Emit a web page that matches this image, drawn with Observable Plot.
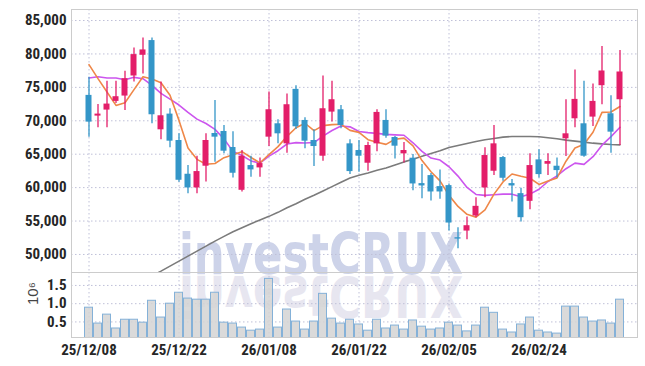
<!DOCTYPE html>
<html>
<head>
<meta charset="utf-8">
<script src="https://cdn.jsdelivr.net/npm/d3@7"></script>
<script src="https://cdn.jsdelivr.net/npm/@observablehq/plot@0.6"></script>
<style>
  html, body { margin: 0; padding: 0; background: #fff; }
  #wrap { position: relative; width: 645px; height: 366px; overflow: hidden; }
  #wm { position: absolute; left: 0; top: 0; z-index: 0; }
  #charts { position: absolute; left: 0; top: 0; z-index: 1; }
  #charts svg { display: block; }
</style>
</head>
<body>
<div id="wrap">
  <svg id="wm" width="645" height="366">
    <text x="321" y="274" text-anchor="middle" font-family="DejaVu Sans" font-weight="bold" font-size="57" textLength="284" lengthAdjust="spacingAndGlyphs" fill="#cdd3e9">investCRUX</text>
    <g transform="translate(0,550) scale(1,-1)">
      <text x="321" y="274" text-anchor="middle" font-family="DejaVu Sans" font-weight="bold" font-size="57" textLength="284" lengthAdjust="spacingAndGlyphs" fill="#e7e6f0">investCRUX</text>
    </g>
  </svg>
  <div id="charts"></div>
</div>
<script>
const dates = [
  "25/12/08","25/12/09","25/12/10","25/12/11","25/12/12",
  "25/12/15","25/12/16","25/12/17","25/12/18","25/12/19",
  "25/12/22","25/12/23","25/12/24","25/12/26","25/12/29",
  "25/12/30","26/01/02","26/01/05","26/01/06","26/01/07",
  "26/01/08","26/01/09","26/01/12","26/01/13","26/01/14",
  "26/01/15","26/01/16","26/01/19","26/01/20","26/01/21",
  "26/01/22","26/01/23","26/01/26","26/01/27","26/01/28",
  "26/01/29","26/01/30","26/02/02","26/02/03","26/02/04",
  "26/02/05","26/02/06","26/02/09","26/02/10","26/02/11",
  "26/02/12","26/02/13","26/02/19","26/02/20","26/02/23",
  "26/02/24","26/02/25","26/02/26","26/02/27","26/03/03",
  "26/03/04","26/03/05","26/03/06","26/03/09","26/03/10"
];
const opens = [
  73800,70700,71600,72900,73700,76700,79800,82000,68650,71000,
  67050,62000,59950,63200,68100,68400,66000,59600,63300,62950,
  67550,69550,66550,74700,70050,67050,64700,71300,71650,66550,
  65550,63650,66550,70050,67500,65050,64400,60600,61800,60150,
  60300,52500,53500,55750,59950,62450,64500,60600,59100,57950,
  64150,63500,63200,67300,70300,69550,70550,75250,71050,73150
];
const highs = [
  76500,72450,75900,75900,77400,80900,82400,82400,75800,71800,
  68050,63300,64700,68050,73050,69300,68350,65550,64700,64450,
  74300,70150,74000,75230,70450,68650,76700,75900,72300,67150,
  67050,66800,71650,71650,67650,66750,64950,63450,62100,62650,
  60550,54000,55600,58500,65950,69300,64650,61200,59900,65050,
  65650,65050,64450,73150,77600,75900,75500,81100,73750,80500
];
const lows = [
  67550,68950,68950,72600,71550,75800,77000,69550,67150,65950,
  60800,59100,59100,60850,63800,65050,61450,59350,61550,61550,
  66150,66550,65150,68700,65800,63150,63950,69800,68800,61950,
  62300,62450,65350,67400,64300,63700,59550,58350,58000,58250,
  53500,50850,52200,55500,58500,61800,60950,57850,54850,56700,
  61450,61800,61450,64650,68950,64550,69150,72400,65150,66300
];
const closes = [
  69800,71000,72500,73600,76300,79900,80600,70900,70750,66950,
  61100,59950,62400,67050,67550,65450,62150,64700,62650,63600,
  71650,68050,72400,69100,66950,66150,71800,73150,69300,62400,
  64700,66300,71250,67700,66200,65550,60550,60250,59350,59350,
  54700,52300,54300,57200,64800,66550,61400,60250,55500,63300,
  61950,63900,62550,68050,73200,64700,72900,77450,68300,77300
];
// volume, in millions of shares (axis unit 10^6)
const volumes = [
  0.89,0.455,0.70,0.32,0.56,0.56,0.48,1.08,0.62,1.00,
  1.30,1.14,1.11,1.11,1.30,0.48,0.455,0.345,0.26,0.29,
  1.68,0.345,0.84,0.51,0.29,0.51,1.27,0.59,0.455,0.56,
  0.43,0.26,0.56,0.32,0.40,0.29,0.54,0.37,0.29,0.32,
  0.48,0.40,0.24,0.40,0.89,0.75,0.29,0.21,0.43,0.62,
  0.26,0.21,0.18,0.92,0.92,0.62,0.51,0.54,0.455,1.11
];
const ma5 = [
  78400,76300,74300,72300,72700,74660,76580,76260,75690,73820,
  70060,65930,64230,63490,63610,64480,64920,65380,64500,63710,
  64950,66130,67670,68960,69630,68530,69280,69430,69470,68560,
  68270,67170,66790,66470,67230,67400,66250,64050,62380,61010,
  58840,57190,56000,55570,56660,59030,60850,62040,61700,61400,
  60480,60980,61440,63950,65930,66480,68280,71260,71310,72130
];
const ma10 = [
  76400,76600,76400,76400,76150,76500,76300,75300,74100,73230,
  72360,71255,70245,69590,68715,67270,65425,64805,63995,63660,
  64715,65525,66525,66730,66670,66740,67705,68550,69215,69095,
  68400,68225,68110,67970,67895,67835,66710,65420,64425,64120,
  63120,61720,60025,58975,58835,58935,59020,59020,58635,59030,
  59755,60915,61740,62825,63665,63480,64630,66350,67630,69030
];
const ma60 = [
  null,null,null,null,null,null,null,46800,47500,48250,
  49000,49750,50500,51250,52000,52700,53400,54000,54600,55150,
  55700,56300,57000,57600,58250,58850,59500,60150,60800,61450,
  61850,62200,62600,62950,63400,63850,64250,64700,65100,65500,
  66000,66300,66600,66900,67150,67350,67550,67650,67650,67650,
  67600,67450,67300,67100,66950,66800,66650,66550,66450,66400
];
const priceTicks = [50000,55000,60000,65000,70000,75000,80000,85000];
const volumeTicks = [0.5,1.0,1.5];
const dateTicks = ["25/12/08","25/12/22","26/01/08","26/01/22","26/02/05","26/02/24"];

const candles = dates.map((date, i) => ({
  date, open: opens[i], high: highs[i], low: lows[i], close: closes[i],
  volume: volumes[i], ma5: ma5[i], ma10: ma10[i], ma60: ma60[i]
}));

const UP = "#e31e69", DOWN = "#3496c8";
const col = d => d.close >= d.open ? UP : DOWN;
const gridStyle = {stroke: "#bfc0d8", strokeOpacity: 1, strokeDasharray: "1.5,2.5"};
const font = "'Liberation Sans Narrow', 'Roboto Condensed', 'DejaVu Sans', sans-serif";
const baseStyle = {background: "transparent", fontFamily: font, fontStretch: "condensed", fontWeight: "bold", fontSize: "15px", color: "#262626", overflow: "visible"};

const price = Plot.plot({
  width: 645, height: 272,
  marginLeft: 71, marginRight: 8, marginTop: 9, marginBottom: 0,
  style: baseStyle,
  x: {type: "band", domain: dates, padding: 0, axis: null},
  y: {domain: [47300, 86650], ticks: priceTicks, tickFormat: d3.format(","), tickSize: 0, tickPadding: 5, label: null},
  marks: [
    Plot.gridY(priceTicks, gridStyle),
    Plot.gridX(dateTicks, gridStyle),
    Plot.frame({stroke: "#cccccc"}),
    Plot.line(candles.filter(d => d.ma60 != null), {x: "date", y: "ma60", stroke: "#7b7b7b", strokeWidth: 1.6, clip: true}),
    Plot.line(candles, {x: "date", y: "ma10", stroke: "#cc55ee", strokeWidth: 1.6}),
    Plot.line(candles, {x: "date", y: "ma5", stroke: "#ef8748", strokeWidth: 1.6}),
    Plot.ruleX(candles, {x: "date", y1: "low", y2: "high", stroke: col, strokeWidth: 1.3}),
    Plot.barY(candles, {x: "date", y1: "open", y2: "close", fill: col, insetLeft: 1.5, insetRight: 1.5})
  ]
});

const volume = Plot.plot({
  width: 645, height: 94,
  marginLeft: 71, marginRight: 8, marginTop: 0, marginBottom: 29,
  style: baseStyle,
  x: {type: "band", domain: dates, padding: 0, ticks: dateTicks, tickSize: 0, tickPadding: 7, label: null},
  y: {domain: [0.073, 1.855], ticks: volumeTicks, tickFormat: d3.format(".1f"), tickSize: 0, tickPadding: 5, label: null},
  marks: [
    Plot.gridY(volumeTicks, gridStyle),
    Plot.gridX(dateTicks, gridStyle),
    Plot.barY(candles, {x: "date", y: "volume", fill: "#d4d4d4", fillOpacity: 0.85, stroke: "#84b1d8", strokeWidth: 1, insetLeft: 0.5, insetRight: 0.5, clip: true}),
    Plot.frame({stroke: "#cccccc"}),
    Plot.text(["10⁶"], {frameAnchor: "left", dx: -38, rotate: -90, fill: "#444", fontSize: 15, fontWeight: "normal", fontFamily: "'Liberation Sans', sans-serif"})
  ]
});

const host = document.getElementById("charts");
host.appendChild(price);
host.appendChild(volume);
</script>
</body>
</html>
